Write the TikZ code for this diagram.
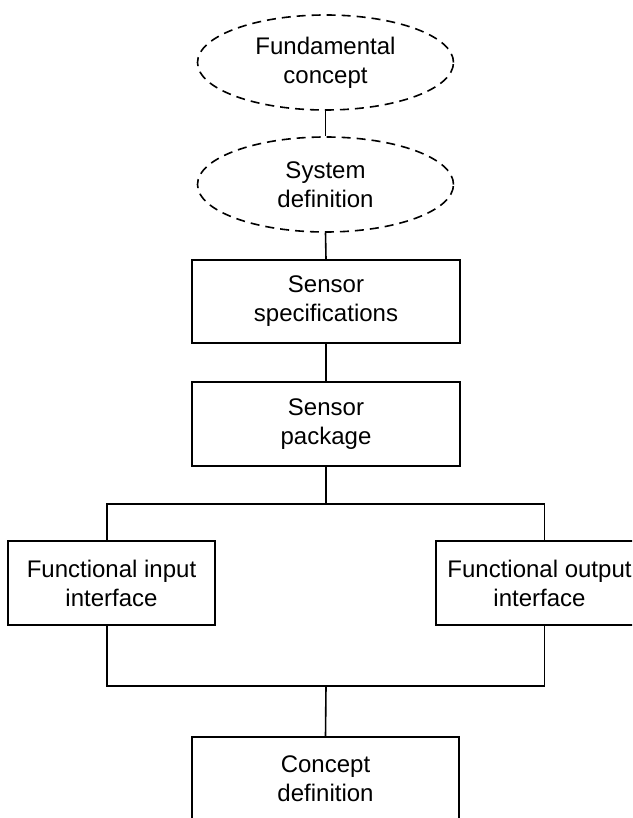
\documentclass[tikz,border=0pt]{standalone}
\usepackage{fontspec}
\setmainfont{Liberation Sans}
\usetikzlibrary{shapes.geometric}
\begin{document}
\begin{tikzpicture}[x=1pt,y=-1pt,
  lbl/.style={align=center,font=\fontsize{24}{29}\selectfont,inner sep=0pt},
  bx/.style={lbl,draw,line width=1.6pt,minimum height=84pt},
  ell/.style={lbl,draw,ellipse,line width=1.6pt,dash pattern=on 9pt off 6pt,minimum width=256pt,minimum height=95pt},
  conn/.style={line width=1.6pt}]
\useasboundingbox (0,0) rectangle (632,818);
\clip (0,0) rectangle (632,818);
\node[ell] (fc) at (325.5,62.5) {Fundamental\\concept};
\node[ell] (sd) at (325.5,184.5) {System\\definition};
\node[bx,minimum width=268pt,minimum height=83pt] (spec) at (326,301.5) {Sensor\\specifications};
\node[bx,minimum width=268pt] (pkg) at (326,424) {Sensor\\package};
\node[bx,minimum width=207pt] (fin) at (111.5,583) {Functional input\\interface};
\node[bx,minimum width=207pt] (fout) at (539.5,583) {Functional output\\interface};
\node[bx,minimum width=267pt] (cd) at (325.5,779) {Concept\\definition};
\coordinate (br) at (326,504);
\coordinate (jn) at (326,686);
\coordinate (finN) at ([xshift=-4.5pt]fin.north);
\coordinate (finS) at ([xshift=-4.5pt]fin.south);
\coordinate (foutN) at ([xshift=5pt]fout.north);
\coordinate (foutS) at ([xshift=5pt]fout.south);
\draw[conn] (fc.south) -- (sd.north);
\draw[conn] (sd.south) -- (spec.north);
\draw[conn] (spec.south) -- (pkg.north);
\draw[conn] (pkg.south) -- (br);
\draw[conn] (finN) -- (finN |- br) -- (foutN |- br) -- (foutN);
\draw[conn] (finS) -- (finS |- jn) -- (foutS |- jn) -- (foutS);
\draw[conn] (jn) -- (cd.north);
\end{tikzpicture}
\end{document}
